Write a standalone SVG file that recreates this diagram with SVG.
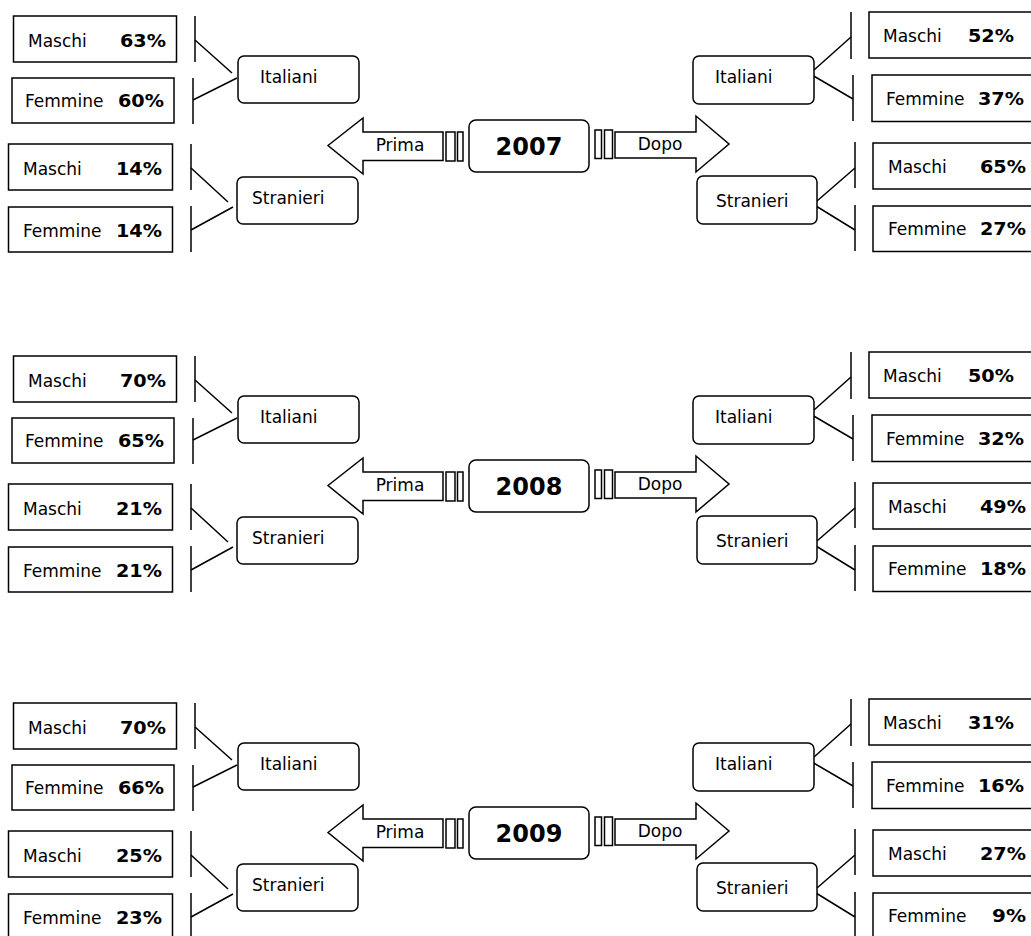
<svg xmlns="http://www.w3.org/2000/svg" width="1031" height="936" viewBox="0 0 1031 936">
<style>
.bx{fill:#fff;stroke:#000;stroke-width:1.5}
.ln{fill:none;stroke:#000;stroke-width:1.5}
text{font-family:"DejaVu Sans",Verdana,sans-serif;font-size:17px;fill:#000}
.p{font-weight:bold;text-anchor:end}
.c{text-anchor:middle}
.y{font-size:24px;font-weight:bold;text-anchor:middle}
</style>
<rect width="1031" height="936" fill="#fff"/>

<!-- ===== 2007 ===== -->
<g id="block-2007">
  <g id="conn-2007" class="ln">
    <path d="M195,16V62M193,78V124M191,144V190M191,206V252"/>
    <path d="M195,40L232,73M193,100L237,78M191,168L228,202M191,230L233,207"/>
    <path d="M851,12V59M853,75V121M855,142V188M855,205V251"/>
    <path d="M814,70L851,37M812,75L853,99M817,201L855,168M816,206L855,230"/>
  </g>
  <g id="n2007-l-m-ita"><rect class="bx" x="13.5" y="16" width="163" height="46"/><text x="28" y="47">Maschi</text><text class="p" x="166" y="47" textLength="46" lengthAdjust="spacingAndGlyphs">63%</text></g>
  <g id="n2007-l-f-ita"><rect class="bx" x="12" y="78" width="162" height="45"/><text x="25" y="107">Femmine</text><text class="p" x="164" y="107" textLength="46" lengthAdjust="spacingAndGlyphs">60%</text></g>
  <g id="n2007-l-m-str"><rect class="bx" x="8.5" y="144" width="164" height="46"/><text x="23" y="175">Maschi</text><text class="p" x="162" y="175" textLength="46" lengthAdjust="spacingAndGlyphs">14%</text></g>
  <g id="n2007-l-f-str"><rect class="bx" x="8.5" y="207" width="164" height="45"/><text x="23" y="237">Femmine</text><text class="p" x="162" y="237" textLength="46" lengthAdjust="spacingAndGlyphs">14%</text></g>
  <g id="n2007-l-ita"><rect class="bx" x="238" y="56" width="121" height="47" rx="6"/><text x="260" y="83">Italiani</text></g>
  <g id="n2007-l-str"><rect class="bx" x="237" y="177" width="121" height="47" rx="6"/><text x="252" y="204">Stranieri</text></g>
  <g id="n2007-prima"><polygon class="bx" points="328,145.5 363,118 363,132 443,132 443,160.5 363,160.5 363,174"/><rect class="bx" x="446" y="132" width="9" height="29"/><rect class="bx" x="457.5" y="132" width="5.5" height="29"/><text class="c" x="400" y="150.5">Prima</text></g>
  <g id="n2007-year"><rect class="bx" x="469" y="120" width="120" height="52" rx="7"/><text class="y" x="529" y="155">2007</text></g>
  <g id="n2007-dopo"><polygon class="bx" points="615,132 696,132 696,116 729,144 696,172 696,158 615,158"/><rect class="bx" x="595" y="130" width="6.5" height="28.5"/><rect class="bx" x="604.5" y="130" width="8" height="28.5"/><text class="c" x="660" y="150">Dopo</text></g>
  <g id="n2007-r-ita"><rect class="bx" x="693" y="56" width="121" height="48" rx="6"/><text x="715" y="83">Italiani</text></g>
  <g id="n2007-r-str"><rect class="bx" x="697" y="176" width="120" height="48" rx="6"/><text x="716" y="207">Stranieri</text></g>
  <g id="n2007-r-m-ita"><rect class="bx" x="869" y="12" width="180" height="46"/><text x="883" y="42">Maschi</text><text class="p" x="1014" y="42" textLength="46" lengthAdjust="spacingAndGlyphs">52%</text></g>
  <g id="n2007-r-f-ita"><rect class="bx" x="872" y="75" width="180" height="46.5"/><text x="886" y="105">Femmine</text><text class="p" x="1024" y="105" textLength="46" lengthAdjust="spacingAndGlyphs">37%</text></g>
  <g id="n2007-r-m-str"><rect class="bx" x="873" y="143" width="180" height="46"/><text x="888" y="173">Maschi</text><text class="p" x="1026" y="173" textLength="46" lengthAdjust="spacingAndGlyphs">65%</text></g>
  <g id="n2007-r-f-str"><rect class="bx" x="873" y="206" width="180" height="45.5"/><text x="888" y="235">Femmine</text><text class="p" x="1026" y="235" textLength="46" lengthAdjust="spacingAndGlyphs">27%</text></g>
</g>

<!-- ===== 2008 ===== -->
<g id="block-2008" transform="translate(0,340)">
  <g id="conn-2008" class="ln">
    <path d="M195,16V62M193,78V124M191,144V190M191,206V252"/>
    <path d="M195,40L232,73M193,100L237,78M191,168L228,202M191,230L233,207"/>
    <path d="M851,12V59M853,75V121M855,142V188M855,205V251"/>
    <path d="M814,70L851,37M812,75L853,99M817,201L855,168M816,206L855,230"/>
  </g>
  <g id="n2008-l-m-ita"><rect class="bx" x="13.5" y="16" width="163" height="46"/><text x="28" y="47">Maschi</text><text class="p" x="166" y="47" textLength="46" lengthAdjust="spacingAndGlyphs">70%</text></g>
  <g id="n2008-l-f-ita"><rect class="bx" x="12" y="78" width="162" height="45"/><text x="25" y="107">Femmine</text><text class="p" x="164" y="107" textLength="46" lengthAdjust="spacingAndGlyphs">65%</text></g>
  <g id="n2008-l-m-str"><rect class="bx" x="8.5" y="144" width="164" height="46"/><text x="23" y="175">Maschi</text><text class="p" x="162" y="175" textLength="46" lengthAdjust="spacingAndGlyphs">21%</text></g>
  <g id="n2008-l-f-str"><rect class="bx" x="8.5" y="207" width="164" height="45"/><text x="23" y="237">Femmine</text><text class="p" x="162" y="237" textLength="46" lengthAdjust="spacingAndGlyphs">21%</text></g>
  <g id="n2008-l-ita"><rect class="bx" x="238" y="56" width="121" height="47" rx="6"/><text x="260" y="83">Italiani</text></g>
  <g id="n2008-l-str"><rect class="bx" x="237" y="177" width="121" height="47" rx="6"/><text x="252" y="204">Stranieri</text></g>
  <g id="n2008-prima"><polygon class="bx" points="328,145.5 363,118 363,132 443,132 443,160.5 363,160.5 363,174"/><rect class="bx" x="446" y="132" width="9" height="29"/><rect class="bx" x="457.5" y="132" width="5.5" height="29"/><text class="c" x="400" y="150.5">Prima</text></g>
  <g id="n2008-year"><rect class="bx" x="469" y="120" width="120" height="52" rx="7"/><text class="y" x="529" y="155">2008</text></g>
  <g id="n2008-dopo"><polygon class="bx" points="615,132 696,132 696,116 729,144 696,172 696,158 615,158"/><rect class="bx" x="595" y="130" width="6.5" height="28.5"/><rect class="bx" x="604.5" y="130" width="8" height="28.5"/><text class="c" x="660" y="150">Dopo</text></g>
  <g id="n2008-r-ita"><rect class="bx" x="693" y="56" width="121" height="48" rx="6"/><text x="715" y="83">Italiani</text></g>
  <g id="n2008-r-str"><rect class="bx" x="697" y="176" width="120" height="48" rx="6"/><text x="716" y="207">Stranieri</text></g>
  <g id="n2008-r-m-ita"><rect class="bx" x="869" y="12" width="180" height="46"/><text x="883" y="42">Maschi</text><text class="p" x="1014" y="42" textLength="46" lengthAdjust="spacingAndGlyphs">50%</text></g>
  <g id="n2008-r-f-ita"><rect class="bx" x="872" y="75" width="180" height="46.5"/><text x="886" y="105">Femmine</text><text class="p" x="1024" y="105" textLength="46" lengthAdjust="spacingAndGlyphs">32%</text></g>
  <g id="n2008-r-m-str"><rect class="bx" x="873" y="143" width="180" height="46"/><text x="888" y="173">Maschi</text><text class="p" x="1026" y="173" textLength="46" lengthAdjust="spacingAndGlyphs">49%</text></g>
  <g id="n2008-r-f-str"><rect class="bx" x="873" y="206" width="180" height="45.5"/><text x="888" y="235">Femmine</text><text class="p" x="1026" y="235" textLength="46" lengthAdjust="spacingAndGlyphs">18%</text></g>
</g>

<!-- ===== 2009 ===== -->
<g id="block-2009" transform="translate(0,687)">
  <g id="conn-2009" class="ln">
    <path d="M195,16V62M193,78V124M191,144V190M191,206V252"/>
    <path d="M195,40L232,73M193,100L237,78M191,168L228,202M191,230L233,207"/>
    <path d="M851,12V59M853,75V121M855,142V188M855,205V251"/>
    <path d="M814,70L851,37M812,75L853,99M817,201L855,168M816,206L855,230"/>
  </g>
  <g id="n2009-l-m-ita"><rect class="bx" x="13.5" y="16" width="163" height="46"/><text x="28" y="47">Maschi</text><text class="p" x="166" y="47" textLength="46" lengthAdjust="spacingAndGlyphs">70%</text></g>
  <g id="n2009-l-f-ita"><rect class="bx" x="12" y="78" width="162" height="45"/><text x="25" y="107">Femmine</text><text class="p" x="164" y="107" textLength="46" lengthAdjust="spacingAndGlyphs">66%</text></g>
  <g id="n2009-l-m-str"><rect class="bx" x="8.5" y="144" width="164" height="46"/><text x="23" y="175">Maschi</text><text class="p" x="162" y="175" textLength="46" lengthAdjust="spacingAndGlyphs">25%</text></g>
  <g id="n2009-l-f-str"><rect class="bx" x="8.5" y="207" width="164" height="45"/><text x="23" y="237">Femmine</text><text class="p" x="162" y="237" textLength="46" lengthAdjust="spacingAndGlyphs">23%</text></g>
  <g id="n2009-l-ita"><rect class="bx" x="238" y="56" width="121" height="47" rx="6"/><text x="260" y="83">Italiani</text></g>
  <g id="n2009-l-str"><rect class="bx" x="237" y="177" width="121" height="47" rx="6"/><text x="252" y="204">Stranieri</text></g>
  <g id="n2009-prima"><polygon class="bx" points="328,145.5 363,118 363,132 443,132 443,160.5 363,160.5 363,174"/><rect class="bx" x="446" y="132" width="9" height="29"/><rect class="bx" x="457.5" y="132" width="5.5" height="29"/><text class="c" x="400" y="150.5">Prima</text></g>
  <g id="n2009-year"><rect class="bx" x="469" y="120" width="120" height="52" rx="7"/><text class="y" x="529" y="155">2009</text></g>
  <g id="n2009-dopo"><polygon class="bx" points="615,132 696,132 696,116 729,144 696,172 696,158 615,158"/><rect class="bx" x="595" y="130" width="6.5" height="28.5"/><rect class="bx" x="604.5" y="130" width="8" height="28.5"/><text class="c" x="660" y="150">Dopo</text></g>
  <g id="n2009-r-ita"><rect class="bx" x="693" y="56" width="121" height="48" rx="6"/><text x="715" y="83">Italiani</text></g>
  <g id="n2009-r-str"><rect class="bx" x="697" y="176" width="120" height="48" rx="6"/><text x="716" y="207">Stranieri</text></g>
  <g id="n2009-r-m-ita"><rect class="bx" x="869" y="12" width="180" height="46"/><text x="883" y="42">Maschi</text><text class="p" x="1014" y="42" textLength="46" lengthAdjust="spacingAndGlyphs">31%</text></g>
  <g id="n2009-r-f-ita"><rect class="bx" x="872" y="75" width="180" height="46.5"/><text x="886" y="105">Femmine</text><text class="p" x="1024" y="105" textLength="46" lengthAdjust="spacingAndGlyphs">16%</text></g>
  <g id="n2009-r-m-str"><rect class="bx" x="873" y="143" width="180" height="46"/><text x="888" y="173">Maschi</text><text class="p" x="1026" y="173" textLength="46" lengthAdjust="spacingAndGlyphs">27%</text></g>
  <g id="n2009-r-f-str"><rect class="bx" x="873" y="206" width="180" height="45.5"/><text x="888" y="235">Femmine</text><text class="p" x="1026" y="235" textLength="34" lengthAdjust="spacingAndGlyphs">9%</text></g>
</g>
</svg>
